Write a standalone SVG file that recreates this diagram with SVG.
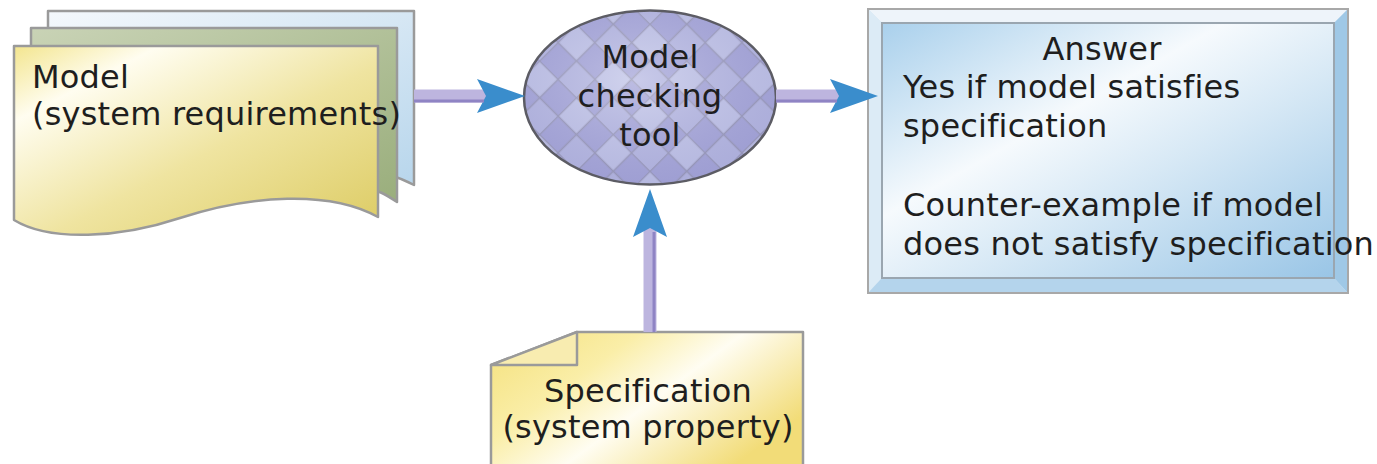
<svg xmlns="http://www.w3.org/2000/svg" width="1377" height="464" viewBox="0 0 1377 464">
  <style>
    .lbl { font-family: "DejaVu Sans", Verdana, sans-serif; font-size: 32px; letter-spacing: 0.2px; fill: #1e1e1e; }
    .mid { text-anchor: middle; }
    .edge { stroke: #9a9a9a; stroke-width: 2.5; stroke-linejoin: round; }
    .shaft { fill: none; stroke: #bdb5df; stroke-width: 13; }
    .shaft-dark { fill: none; stroke: #8f84c4; stroke-width: 3; }
  </style>
  <defs>
    <linearGradient id="gYellow" x1="0" y1="0" x2="1" y2="1">
      <stop offset="0" stop-color="#f3e58e"/>
      <stop offset="0.2" stop-color="#fffdf0"/>
      <stop offset="0.55" stop-color="#efe4a0"/>
      <stop offset="1" stop-color="#dccb62"/>
    </linearGradient>
    <linearGradient id="gNote" x1="0" y1="0" x2="1" y2="0.6">
      <stop offset="0" stop-color="#f4e07a"/>
      <stop offset="0.35" stop-color="#faeea8"/>
      <stop offset="0.6" stop-color="#fffdf2"/>
      <stop offset="1" stop-color="#f2dc78"/>
    </linearGradient>
    <linearGradient id="gGreen" x1="0" y1="0" x2="1" y2="1">
      <stop offset="0" stop-color="#c9d3b6"/>
      <stop offset="1" stop-color="#9aae7c"/>
    </linearGradient>
    <linearGradient id="gBack" x1="0" y1="0" x2="1" y2="1">
      <stop offset="0" stop-color="#f4f8fc"/>
      <stop offset="1" stop-color="#b8d6ec"/>
    </linearGradient>
    <linearGradient id="gPanel" x1="0" y1="0" x2="1" y2="1">
      <stop offset="0" stop-color="#a9d0ec"/>
      <stop offset="0.38" stop-color="#f6fafd"/>
      <stop offset="0.6" stop-color="#d6e8f5"/>
      <stop offset="1" stop-color="#99c5e6"/>
    </linearGradient>
    <radialGradient id="gGloss" cx="0.45" cy="0.4" r="0.6">
      <stop offset="0" stop-color="#ffffff" stop-opacity="0.25"/>
      <stop offset="1" stop-color="#7070b0" stop-opacity="0.15"/>
    </radialGradient>
    <pattern id="pChecker" width="52" height="52" patternUnits="userSpaceOnUse" patternTransform="translate(650 97) rotate(45)">
      <rect width="52" height="52" fill="#a7a7d9"/>
      <rect x="0" y="0" width="26" height="26" fill="#c2c5e8"/>
      <rect x="26" y="26" width="26" height="26" fill="#b7b9e2"/>
      <path d="M0,0.5 H52 M0,26.5 H52 M0.5,0 V52 M26.5,0 V52" stroke="#9a9ab8" stroke-width="1.5"/>
    </pattern>
    <marker id="head" markerUnits="userSpaceOnUse" markerWidth="50" markerHeight="38" viewBox="0 0 50 38" refX="10" refY="19" orient="auto">
      <path d="M1,2 L49,19 L1,36 L10,19 Z" fill="#3a8dcc"/>
    </marker>
  </defs>

  <!-- stacked document: system model -->
  <g id="model">
    <path d="M48,11 H414 V185 C395,175 380,172 370,172 L48,172 Z" fill="url(#gBack)" class="edge"/>
    <path d="M31,28 H397 V202 C385,194 378,190 365,188 L31,188 Z" fill="url(#gGreen)" class="edge"/>
    <path d="M14,46 H378 V217 C330,190 250,195 180,218 C120,238 50,242 14,220 Z" fill="url(#gYellow)" class="edge"/>
    <text class="lbl" x="32" y="88">Model</text>
    <text class="lbl" x="32" y="125">(system requirements)</text>
  </g>

  <!-- model checking tool -->
  <g id="tool">
    <ellipse cx="650" cy="97.5" rx="126" ry="87" fill="url(#pChecker)"/>
    <ellipse cx="650" cy="97.5" rx="126" ry="87" fill="url(#gGloss)" stroke="#5c5c64" stroke-width="2.5"/>
    <text class="lbl mid" x="650" y="68">Model</text>
    <text class="lbl mid" x="650" y="107">checking</text>
    <text class="lbl mid" x="650" y="146">tool</text>
  </g>

  <!-- answer panel -->
  <g id="answer">
    <rect x="868" y="9" width="480" height="284" fill="#cfe3f2" stroke="#a8a8a8" stroke-width="2"/>
    <path d="M869,10 H1347 L1334,23 H882 Z" fill="#eef4fa"/>
    <path d="M869,10 L882,23 V278 L869,292 Z" fill="#dcebf6"/>
    <path d="M1347,10 V292 L1334,278 V23 Z" fill="#9fc8e6"/>
    <path d="M869,292 H1347 L1334,278 H882 Z" fill="#b4d4ec"/>
    <rect x="882" y="23" width="452" height="255" fill="url(#gPanel)" stroke="#9aa6b0" stroke-width="2"/>
    <text class="lbl mid" x="1102" y="60">Answer</text>
    <text class="lbl" x="903" y="98">Yes if model satisfies</text>
    <text class="lbl" x="903" y="137">specification</text>
    <text class="lbl" x="903" y="216">Counter-example if model</text>
    <text class="lbl" x="903" y="255">does not satisfy specification</text>
  </g>

  <!-- specification note with folded corner -->
  <g id="specification">
    <path d="M577,332 H803 V470 H491 V365 Z" fill="url(#gNote)" class="edge"/>
    <path d="M491,365 L577,332 V365 Z" fill="#f8ecb0" class="edge"/>
    <text class="lbl mid" x="648" y="402">Specification</text>
    <text class="lbl mid" x="648" y="438">(system property)</text>
  </g>

  <!-- connectors -->
  <g id="connectors">
    <path class="shaft" d="M414,96 H486" marker-end="url(#head)"/>
    <path class="shaft-dark" d="M414,101 H484"/>
    <path class="shaft" d="M776,96 H839" marker-end="url(#head)"/>
    <path class="shaft-dark" d="M776,101 H837"/>
    <path class="shaft" d="M650,332 V228" marker-end="url(#head)"/>
    <path class="shaft-dark" d="M654,332 V232"/>
  </g>
</svg>
